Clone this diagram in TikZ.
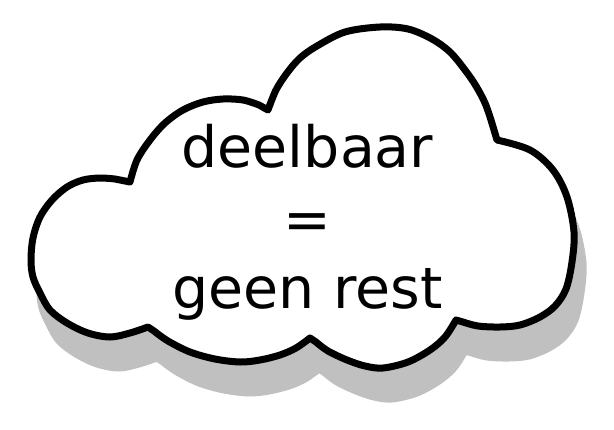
\documentclass[tikz,border=0pt]{standalone}
\usepackage{fontspec}
\setmainfont{DejaVu Sans}
\definecolor{shadowgray}{RGB}{192,192,192}
\newcommand\cloudoutline{%
  plot[smooth,tension=0.55] coordinates {(130,182) (137,160) (150,140) (165,123) (183,110) (203,102) (223,99) (243,100) (259,105)}
  -- plot[smooth,tension=0.55] coordinates {(268,110) (276,90) (287,73) (300,58) (317,46) (345,32) (380,27) (408,29) (432,39) (450,52) (465,70) (476,86) (485,103) (491,120)}
  -- plot[smooth,tension=0.55] coordinates {(497,140) (530,150) (553,170) (567,197) (574,232) (572,262) (566,289) (555,306) (540,317) (520,325) (500,327) (478,326) (463,322)}
  -- plot[smooth,tension=0.55] coordinates {(456,320) (445,337) (430,350) (408,362) (383,368) (365,366) (347,360) (328,351) (316,342)}
  -- plot[smooth,tension=0.55] coordinates {(310,338) (296,348) (280,355) (260,360) (240,362) (215,359) (190,352) (168,341) (154,331)}
  -- plot[smooth,tension=0.55] coordinates {(148,327) (130,333) (110,337) (88,333) (67,323) (50,310) (40,293) (33,277) (31,260) (33,238) (40,217) (52,200) (67,187) (83,180) (100,178) (115,179)}
  -- cycle}
\tikzset{
  cloudline/.style={line width=7pt, line join=round},
  cloudtext/.style={anchor=base, inner sep=0pt, font=\fontsize{57}{70}\selectfont}
}
\begin{document}
\begin{tikzpicture}[x=1pt,y=-1pt]
\useasboundingbox (0,0) rectangle (614,429);
\begin{scope}[shift={(9,31)}]
  \filldraw[shadowgray, cloudline] \cloudoutline;
\end{scope}
\filldraw[fill=white, draw=black, cloudline] \cloudoutline;
\node[cloudtext] (t1) at (307.5,167) {deelbaar};
\node[cloudtext] (t2) at (307.5,239) {=};
\node[cloudtext] (t3) at (307.5,308) {geen rest};
\end{tikzpicture}
\end{document}
